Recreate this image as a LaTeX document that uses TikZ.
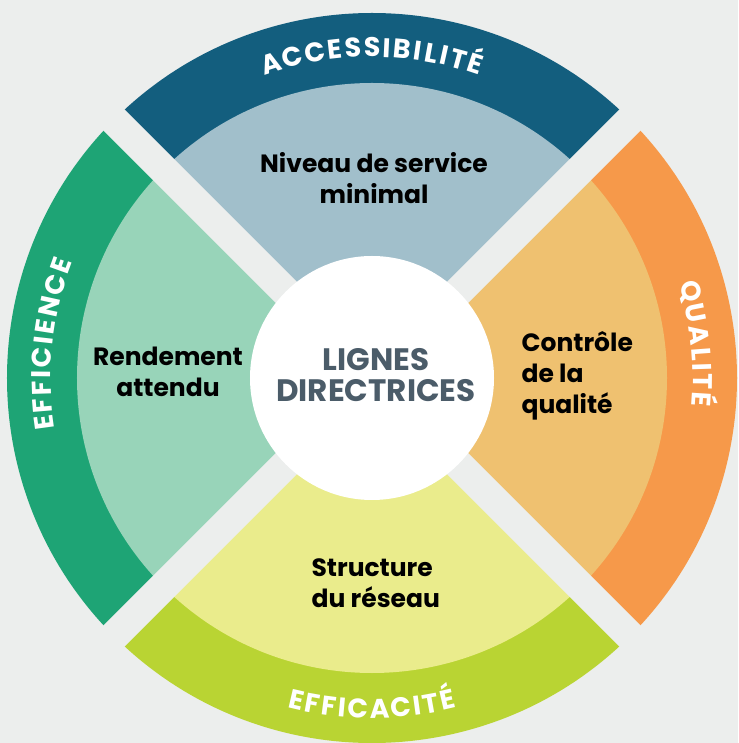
\documentclass[tikz,border=0pt]{standalone}
\usepackage{fontspec}
\setmainfont{Poppins}
\usetikzlibrary{decorations.text}

\definecolor{bggray}{HTML}{ECEEED}
\definecolor{accdark}{HTML}{135E7E}
\definecolor{acclight}{HTML}{A1BFCB}
\definecolor{effdark}{HTML}{1EA475}
\definecolor{efflight}{HTML}{98D4B9}
\definecolor{quadark}{HTML}{F6994A}
\definecolor{qualight}{HTML}{EFC170}
\definecolor{efcdark}{HTML}{B9D433}
\definecolor{efclight}{HTML}{EAEC8C}
\definecolor{slate}{HTML}{4B5C69}

\tikzset{
    ring title/.style={decorate, decoration={text effects along path,
        text={#1}, text align=center, text effects/.cd,
        characters={text along path, text=white, font=\fontsize{27}{30}\selectfont\bfseries},
        character widths={inner xsep=1.6pt}}}
}

\begin{document}
\begin{tikzpicture}[
    x=1pt, y=1pt,
    every node/.style={font=\fontsize{25}{31}\selectfont\bfseries},
    box/.style={text=black}
]

\useasboundingbox[fill=bggray] (-372,-365) rectangle (366,378);

% accessibilite (top)
\fill[accdark] (0,0) -- (45:365) arc[start angle=45, end angle=135, radius=365] -- cycle;
\fill[acclight] (0,0) -- (45:295) arc[start angle=45, end angle=135, radius=295] -- cycle;

% efficience (left)
\fill[effdark] (0,0) -- (135:365) arc[start angle=135, end angle=225, radius=365] -- cycle;
\fill[efflight] (0,0) -- (135:295) arc[start angle=135, end angle=225, radius=295] -- cycle;

% efficacite (bottom)
\fill[efcdark] (0,0) -- (225:365) arc[start angle=225, end angle=315, radius=365] -- cycle;
\fill[efclight] (0,0) -- (225:295) arc[start angle=225, end angle=315, radius=295] -- cycle;

% qualite (right)
\fill[quadark] (0,0) -- (-45:365) arc[start angle=-45, end angle=45, radius=365] -- cycle;
\fill[qualight] (0,0) -- (-45:295) arc[start angle=-45, end angle=45, radius=295] -- cycle;

% gaps between the quarters
\fill[bggray, rotate=45] (-370,-15) rectangle (370,15);
\fill[bggray, rotate=-45] (-370,-15) rectangle (370,15);

% centre
\node[circle, fill=white, minimum size=244pt, inner sep=0pt] (centre) at (0,0) {};
\node[text=slate, align=center, font=\fontsize{31}{31}\selectfont\bfseries] (lignes) at (4,3) {LIGNES\\DIRECTRICES};

% labels of the quarters
\node[box, align=center] (niveau) at (2,200) {Niveau de service\\minimal};
\node[box, align=center] (rendement) at (-204,6) {Rendement\\attendu};
\node[box, align=left, anchor=west] (controle) at (146,2) {Contrôle\\de la\\qualité};
\node[box, align=left, anchor=west] (structure) at (-64,-205) {Structure\\du réseau};

% ring titles
\path[ring title=ACCESSIBILITÉ] (135:321) arc[start angle=135, end angle=45, radius=321];
\path[ring title=EFFICIENCE] (219:321) arc[start angle=219, end angle=129, radius=321];
\path[ring title=QUALITÉ] (51:321) arc[start angle=51, end angle=-39, radius=321];
\path[ring title=EFFICACITÉ] (225:340) arc[start angle=225, end angle=315, radius=340];

\end{tikzpicture}
\end{document}
